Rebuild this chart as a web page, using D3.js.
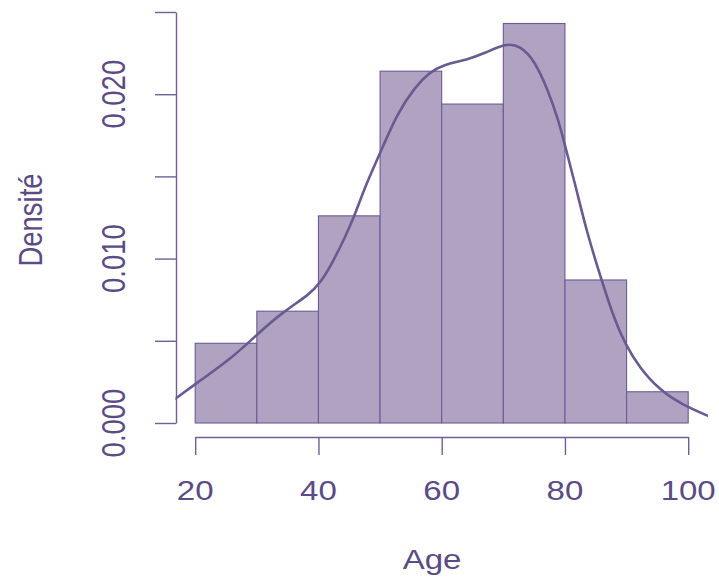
<!DOCTYPE html>
<html><head><meta charset="utf-8">
<script src="https://cdn.jsdelivr.net/npm/d3@7"></script>
<style>body{margin:0;background:#fff}svg{display:block}text{font-family:"Liberation Sans",Arial,sans-serif}</style>
</head><body>
<svg id="c" width="719" height="577"></svg>
<script>
const binEdges = [20,30,40,50,60,70,80,90,100];
const binDensity = [0.00485,0.0068,0.0126,0.0214,0.0194,0.0243,0.0087,0.0019];
const curveX = [16.0,16.76,20,26.1,30.06,34.1,38.6,40.3,42.0,44.3,45.85,47.7,50,52.8,55.7,57.95,60.2,64.2,67.0,70.45,72.7,75.0,77.3,79.0,80.1,81.8,83.5,85.8,88.1,89.8,92.05,95.5,98.9,103.1,104];
const curveY = [0.00128,0.00146,0.00237,0.00399,0.0054,0.00672,0.00783,0.00854,0.00955,0.01128,0.01259,0.01451,0.01640,0.01885,0.02045,0.0213,0.0218,0.0221,0.02250,0.0231,0.02295,0.0221,0.0202,0.01836,0.01674,0.01431,0.01168,0.00885,0.00621,0.0048,0.00338,0.00196,0.00115,0.00045,0.0003];
const xTicks = [20,40,60,80,100];
const yTicks = [0,0.005,0.010,0.015,0.020,0.025];
const yLabels = ["0.000","0.010","0.020"];
const yLabelVals = [0,0.010,0.020];

const col = "#5b4b85", axisCol = "#6e5f96", fillCol = "#b0a2c1", strokeCol = "#6b5b95";
const svg = d3.select("#c");
const x = d3.scaleLinear().domain([20,100]).range([195.2,688.2]);
const y = d3.scaleLinear().domain([0,0.025]).range([423,12]);

svg.append("defs").append("clipPath").attr("id","pr").append("rect")
  .attr("x",x(16.8)).attr("y",0).attr("width",x(103.2)-x(16.8)).attr("height",440);

// bars
svg.append("g").selectAll("rect").data(binDensity).join("rect")
  .attr("x",(d,i)=>x(binEdges[i])).attr("width",(d,i)=>x(binEdges[i+1])-x(binEdges[i]))
  .attr("y",d=>y(d)).attr("height",d=>y(0)-y(d))
  .attr("fill",fillCol).attr("stroke",strokeCol).attr("stroke-width",1.1);

// density curve
const pts = curveX.map((v,i)=>[v,curveY[i]]);
svg.append("path").datum(pts).attr("clip-path","url(#pr)")
  .attr("d",d3.line().x(d=>x(d[0])).y(d=>y(d[1])).curve(d3.curveBasis))
  .attr("fill","none").attr("stroke","#6a5a92").attr("stroke-width",2.6);

// x axis
const xa = svg.append("g").attr("transform","translate(0,437)");
xa.call(d3.axisBottom(x).tickValues(xTicks).tickSize(18).tickSizeOuter(0).tickFormat(""));
xa.select(".domain").attr("stroke",axisCol).attr("stroke-width",1.4);
xa.selectAll(".tick line").attr("stroke",axisCol).attr("stroke-width",1.4);
svg.append("g").selectAll("text").data(xTicks).join("text")
  .attr("transform",d=>`translate(${x(d)},500) scale(1.2,1)`)
  .attr("text-anchor","middle").attr("font-size",27.5).attr("fill",col).text(d=>d);

// y axis
const ya = svg.append("g").attr("transform","translate(176,0)");
ya.call(d3.axisLeft(y).tickValues(yTicks).tickSize(21).tickSizeOuter(0).tickFormat(""));
ya.select(".domain").attr("stroke",axisCol).attr("stroke-width",1.4);
ya.selectAll(".tick line").attr("stroke",axisCol).attr("stroke-width",1.4);
svg.append("g").selectAll("text").data(yLabelVals).join("text")
  .attr("transform",d=>`translate(125,${y(d)}) scale(1.2,1) rotate(-90)`)
  .attr("text-anchor","middle").attr("font-size",27.5).attr("fill",col).text((d,i)=>yLabels[i]);

// titles
svg.append("text").attr("transform","translate(432,569) scale(1.2,1)")
  .attr("text-anchor","middle").attr("font-size",27.5).attr("fill",col).text("Age");
svg.append("text").attr("transform","translate(42,220) scale(1.2,1) rotate(-90)")
  .attr("text-anchor","middle").attr("font-size",27.5).attr("fill",col).text("Densité");
</script>
</body></html>
